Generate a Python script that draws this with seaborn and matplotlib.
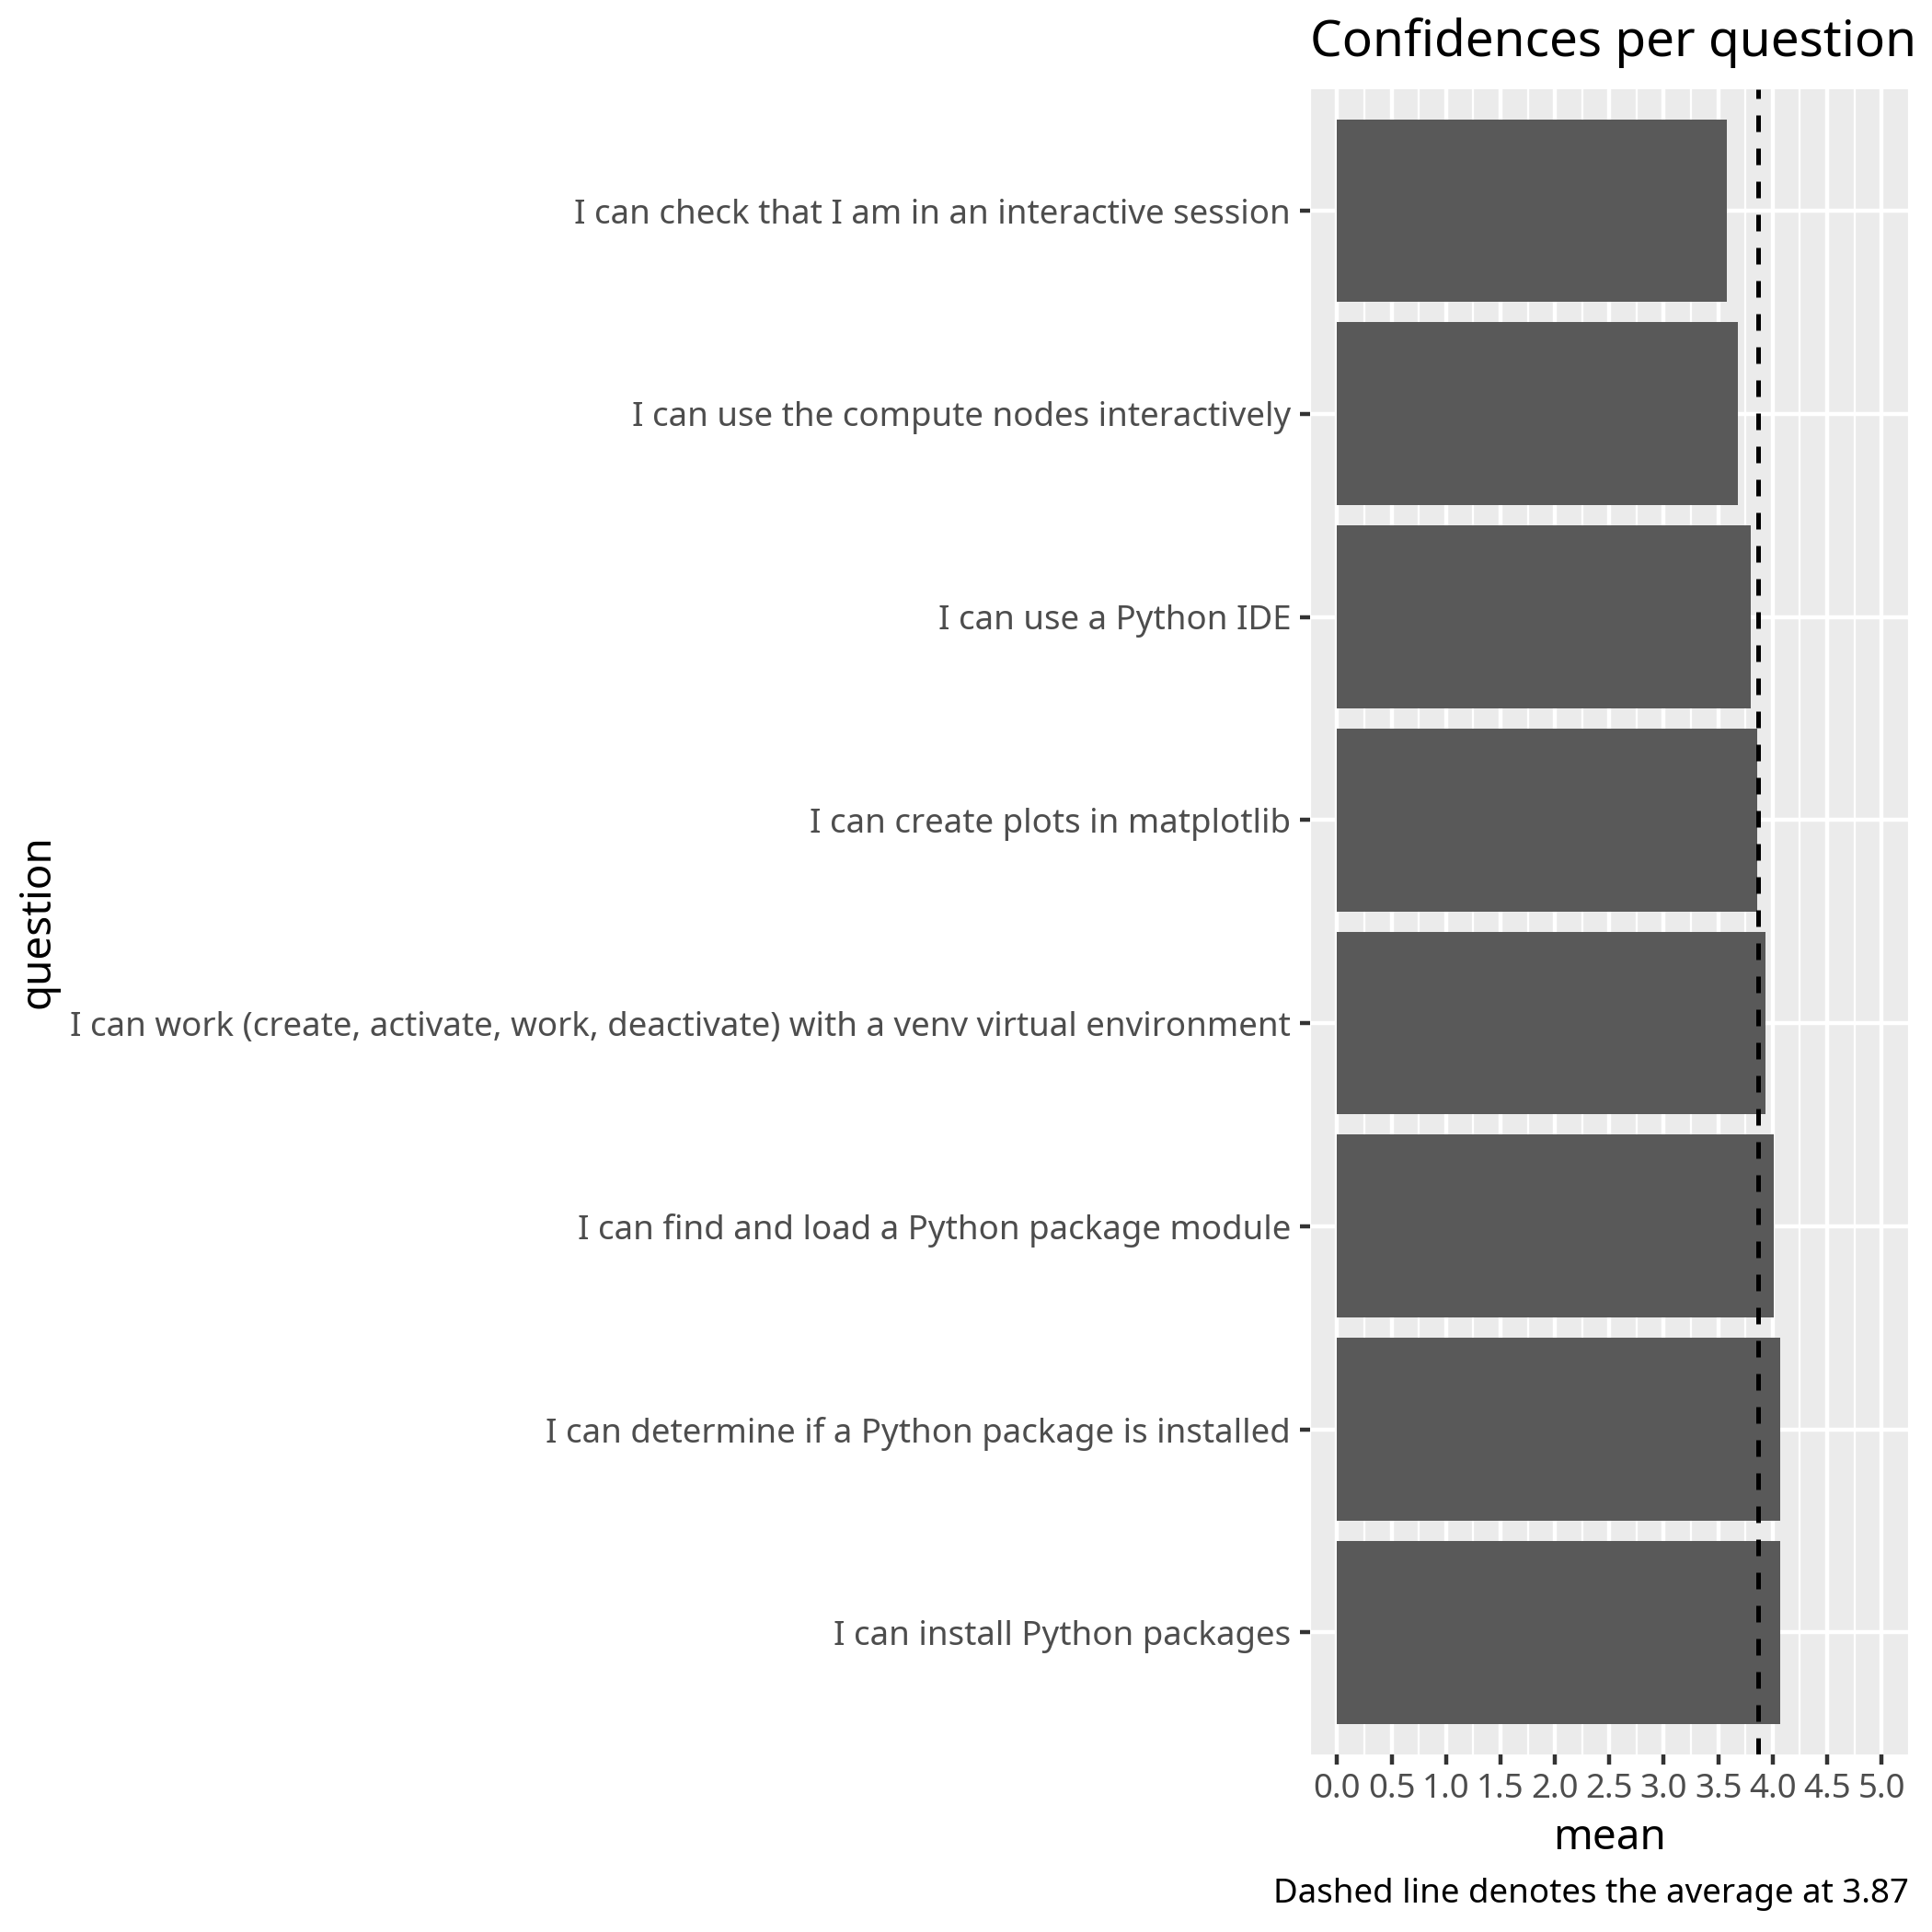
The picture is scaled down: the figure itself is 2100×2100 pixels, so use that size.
import numpy as np
import pandas as pd
import matplotlib
matplotlib.use("Agg")
import matplotlib.pyplot as plt
from matplotlib.ticker import MultipleLocator
import seaborn as sns

# Data (top to bottom)
questions = [
    "I can check that I am in an interactive session",
    "I can use the compute nodes interactively",
    "I can use a Python IDE",
    "I can create plots in matplotlib",
    "I can work (create, activate, work, deactivate) with a venv virtual environment",
    "I can find and load a Python package module",
    "I can determine if a Python package is installed",
    "I can install Python packages",
]
means = [3.58, 3.68, 3.80, 3.86, 3.93, 4.01, 4.07, 4.07]
average = 3.87
x_ticks = [0.0, 0.5, 1.0, 1.5, 2.0, 2.5, 3.0, 3.5, 4.0, 4.5, 5.0]

df = pd.DataFrame({"question": questions, "mean": means})

sns.set_style("darkgrid", rc={
    "axes.facecolor": "#EBEBEB",
    "grid.color": "white",
    "axes.edgecolor": "none",
    "xtick.bottom": True,
    "ytick.left": True,
})
plt.rcParams["font.family"] = ["Noto Sans", "DejaVu Sans"]

fig = plt.figure(figsize=(7, 7), dpi=300)
ax = fig.add_axes([0.678, 0.092, 0.988 - 0.678, 0.954 - 0.092])

sns.barplot(data=df, x="mean", y="question", color="#595959", saturation=1,
            width=0.9, errorbar=None, orient="h", ax=ax, zorder=2,
            edgecolor="none", linewidth=0)

# dashed average line
ax.axvline(average, color="black", linewidth=1.2, linestyle=(0, (3.6, 3.6)), zorder=3)

ax.set_xlim(-0.25, 5.25)
ax.set_ylim(len(questions) - 0.4, -0.6)
ax.set_xticks(x_ticks)
ax.set_xticklabels([f"{t:.1f}" for t in x_ticks])
ax.xaxis.set_minor_locator(MultipleLocator(0.25))

ax.set_axisbelow(True)
ax.grid(True, which="major", color="white", linewidth=1.07)
ax.grid(True, which="minor", axis="x", color="white", linewidth=0.53)
for s in ax.spines.values():
    s.set_visible(False)

ax.tick_params(axis="both", which="major", bottom=True, left=True,
               length=2.75, width=1.07, color="#333333",
               labelsize=8.8, labelcolor="#4D4D4D", pad=2.2)
ax.tick_params(axis="x", which="minor", length=0)

ax.set_xlabel("mean", fontsize=11, color="black", labelpad=2.75)
ax.set_ylabel("question", fontsize=11, color="black", labelpad=2.75)

fig.text(0.678, 1 - 61 / 2100, "Confidences per question", fontsize=13.2,
         ha="left", va="baseline", color="black")
fig.text(0.988, 1 - 2068 / 2100, f"Dashed line denotes the average at {average:.2f}",
         fontsize=8.8, ha="right", va="baseline", color="black")

fig.savefig("out.png", dpi=300)
